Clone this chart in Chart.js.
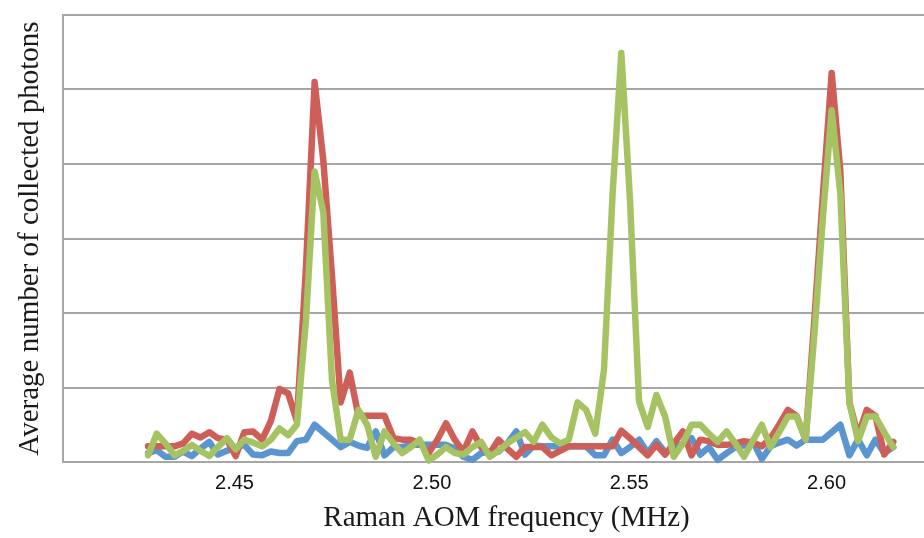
<!DOCTYPE html>
<html>
<head>
<meta charset="utf-8">
<script src="https://cdn.jsdelivr.net/npm/chart.js@4.4.0/dist/chart.umd.min.js"></script>
<style>
  html, body { margin: 0; padding: 0; background: #fff; overflow: hidden; }
  #wrap { width: 950px; height: 538px; }
</style>
</head>
<body>
<div id="wrap"><canvas id="photonChart" width="950" height="538"></canvas></div>
<script>
// Raman AOM frequency (MHz) for each sample
const freqMHz = [
  2.4281, 2.4303, 2.4325, 2.4348, 2.4370, 2.4392, 2.4414, 2.4436, 2.4458, 2.4481,
  2.4503, 2.4525, 2.4547, 2.4570, 2.4592, 2.4614, 2.4636, 2.4658, 2.4681, 2.4703,
  2.4725, 2.4747, 2.4769, 2.4792, 2.4814, 2.4836, 2.4858, 2.4880, 2.4903, 2.4925,
  2.4947, 2.4969, 2.4992, 2.5014, 2.5036, 2.5058, 2.5080, 2.5103, 2.5125, 2.5147,
  2.5169, 2.5191, 2.5214, 2.5236, 2.5258, 2.5280, 2.5303, 2.5325, 2.5347, 2.5369,
  2.5391, 2.5414, 2.5436, 2.5458, 2.5480, 2.5502, 2.5525, 2.5547, 2.5569, 2.5591,
  2.5613, 2.5636, 2.5658, 2.5680, 2.5702, 2.5724, 2.5747, 2.5769, 2.5791, 2.5813,
  2.5836, 2.5858, 2.5880, 2.5902, 2.5924, 2.5947, 2.5969, 2.5991, 2.6013, 2.6035,
  2.6058, 2.6080, 2.6102, 2.6124, 2.6146, 2.6169
];

const blueValues = [
  0.12, 0.16, 0.07, 0.07, 0.14, 0.08, 0.18, 0.27, 0.10, 0.15,
  0.20, 0.23, 0.10, 0.09, 0.14, 0.12, 0.12, 0.28, 0.30, 0.50,
  0.40, 0.30, 0.20, 0.27, 0.22, 0.19, 0.41, 0.09, 0.20, 0.20,
  0.23, 0.23, 0.23, 0.23, 0.23, 0.18, 0.07, 0.03, 0.12, 0.14,
  0.14, 0.25, 0.41, 0.10, 0.22, 0.21, 0.21, 0.21, 0.21, 0.21,
  0.21, 0.09, 0.09, 0.30, 0.12, 0.20, 0.30, 0.12, 0.28, 0.13,
  0.18, 0.25, 0.32, 0.10, 0.20, 0.03, 0.12, 0.20, 0.22, 0.28,
  0.04, 0.21, 0.26, 0.30, 0.22, 0.30, 0.30, 0.30, 0.40, 0.50,
  0.09, 0.30, 0.09, 0.30, 0.12, 0.20
];

const redValues = [
  0.21, 0.21, 0.21, 0.21, 0.25, 0.38, 0.33, 0.40, 0.32, 0.30,
  0.08, 0.40, 0.41, 0.30, 0.55, 0.98, 0.92, 0.55, 2.60, 5.10,
  4.05, 2.50, 0.80, 1.20, 0.62, 0.62, 0.62, 0.62, 0.32, 0.30,
  0.30, 0.25, 0.12, 0.30, 0.52, 0.30, 0.14, 0.41, 0.20, 0.12,
  0.30, 0.18, 0.07, 0.20, 0.20, 0.20, 0.09, 0.15, 0.21, 0.21,
  0.21, 0.21, 0.21, 0.21, 0.42, 0.32, 0.20, 0.09, 0.23, 0.10,
  0.25, 0.41, 0.09, 0.30, 0.28, 0.23, 0.23, 0.25, 0.28, 0.26,
  0.21, 0.32, 0.50, 0.70, 0.62, 0.30, 1.90, 3.60, 5.22, 3.90,
  0.80, 0.35, 0.70, 0.62, 0.10, 0.27
];

const greenValues = [
  0.09, 0.38, 0.25, 0.09, 0.15, 0.23, 0.15, 0.08, 0.20, 0.32,
  0.17, 0.30, 0.26, 0.21, 0.30, 0.45, 0.36, 0.50, 1.90, 3.90,
  3.35, 1.10, 0.30, 0.30, 0.70, 0.50, 0.07, 0.41, 0.25, 0.12,
  0.20, 0.30, 0.02, 0.10, 0.20, 0.12, 0.10, 0.20, 0.27, 0.07,
  0.15, 0.25, 0.33, 0.40, 0.27, 0.50, 0.33, 0.25, 0.30, 0.80,
  0.70, 0.38, 1.23, 3.60, 5.49, 3.52, 0.81, 0.47, 0.90, 0.61,
  0.07, 0.25, 0.50, 0.50, 0.38, 0.27, 0.41, 0.25, 0.07, 0.28,
  0.50, 0.20, 0.40, 0.61, 0.61, 0.30, 1.70, 3.30, 4.72, 3.60,
  0.79, 0.28, 0.61, 0.61, 0.40, 0.20
];

const xTickValues = [2.45, 2.50, 2.55, 2.60];

const gridColor = '#a6a6a6';

function toPoints(values) {
  return values.map((v, i) => ({ x: freqMHz[i], y: v }));
}

function lineSet(label, values, color) {
  return {
    label: label,
    data: toPoints(values),
    borderColor: color,
    backgroundColor: color,
    borderWidth: 6.5,
    borderJoinStyle: 'round',
    borderCapStyle: 'round',
    pointRadius: 0,
    tension: 0,
    fill: false,
    clip: false
  };
}

const ctx = document.getElementById('photonChart').getContext('2d');

// first dataset is painted last, so green sits on top
const photonChart = new Chart(ctx, {
  type: 'line',
  data: {
    datasets: [
      lineSet('Green', greenValues, '#a6c364'),
      lineSet('Red', redValues, '#cd5f58'),
      lineSet('Blue', blueValues, '#5b95cf')
    ]
  },
  options: {
    responsive: false,
    animation: false,
    layout: { padding: { top: 15, right: 0, bottom: 0, left: 0 } },
    plugins: {
      legend: { display: false },
      tooltip: { enabled: false }
    },
    scales: {
      x: {
        type: 'linear',
        min: 2.40655,
        max: 2.63128,
        afterBuildTicks: (scale) => {
          scale.ticks = xTickValues.map(v => ({ value: v }));
        },
        afterFit: (scale) => { scale.height = 76; },
        grid: { display: false, drawTicks: false },
        border: { display: true, color: gridColor, width: 2 },
        ticks: {
          color: '#111',
          padding: 9,
          maxRotation: 0,
          font: { family: 'Liberation Sans', size: 20 },
          callback: (v) => Number(v).toFixed(2)
        },
        title: {
          display: true,
          text: 'Raman AOM frequency (MHz)',
          color: '#1a1a1a',
          font: { family: 'Liberation Serif', size: 29 },
          padding: { top: 0, bottom: 2 }
        }
      },
      y: {
        min: 0,
        max: 6,
        afterFit: (scale) => { scale.width = 63; },
        grid: { color: gridColor, lineWidth: 2, drawTicks: false },
        border: { display: true, color: gridColor, width: 2 },
        ticks: { display: false, stepSize: 1 },
        title: {
          display: true,
          text: 'Average number of collected photons',
          color: '#1a1a1a',
          font: { family: 'Liberation Serif', size: 29 },
          padding: { top: 13, bottom: 0 }
        }
      }
    }
  }
});
</script>
</body>
</html>
